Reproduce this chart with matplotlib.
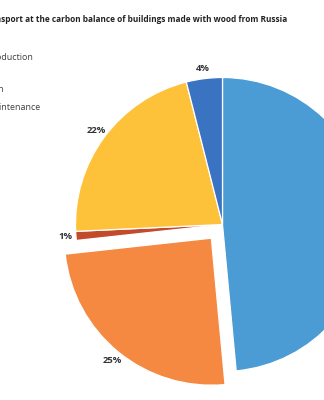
import matplotlib
matplotlib.use("Agg")
import matplotlib.pyplot as plt

# slices, clockwise from 12 o'clock
shares = [49, 25, 1, 22, 4]
share_labels = ["", "25%", "1%", "22%", "4%"]
colors = ["#4b9bd4", "#f58941", "#c24b2b", "#fec13a", "#3b73c3"]
explode = [0, 0.12, 0, 0, 0]

title = "Impact of transport at the carbon balance of buildings made with wood from Russia"
legend_items = ["Production", "Construction", "Maintenance"]
legend_ends = [33, 4, 40]
legend_rows = [57, 90, 107]

plt.rcParams['font.family'] = ['Open Sans', 'DejaVu Sans']

fig = plt.figure(figsize=(3.24, 4.0), dpi=100)
ax = fig.add_axes([0, 0, 1, 1])

wedges, texts = ax.pie(shares, labels=share_labels, colors=colors,
                       explode=explode, startangle=90, counterclock=False,
                       labeldistance=1.07,
                       wedgeprops=dict(edgecolor="white", linewidth=0.9),
                       textprops=dict(fontsize=6.8, fontweight="bold",
                                      color="#333333"))
for t in texts:
    t.set_ha("center")

# pie centre at (222.5, 224.5) px, radius 147 px
r = 147.0
cx, cy = 222.5, 224.5
ax.set_xlim(-cx / r, (324 - cx) / r)
ax.set_ylim(-(400 - cy) / r, cy / r)
ax.axis("off")

fig.text(287 / 324, 1 - 19 / 400, title, ha="right", va="center",
         fontsize=5.98, fontweight="bold", color="#222222")

for name, x_end, y in zip(legend_items, legend_ends, legend_rows):
    fig.text(x_end / 324, 1 - y / 400, name, ha="right", va="center",
             fontsize=6.4, color="#404040")

fig.savefig("out.png", dpi=100)
